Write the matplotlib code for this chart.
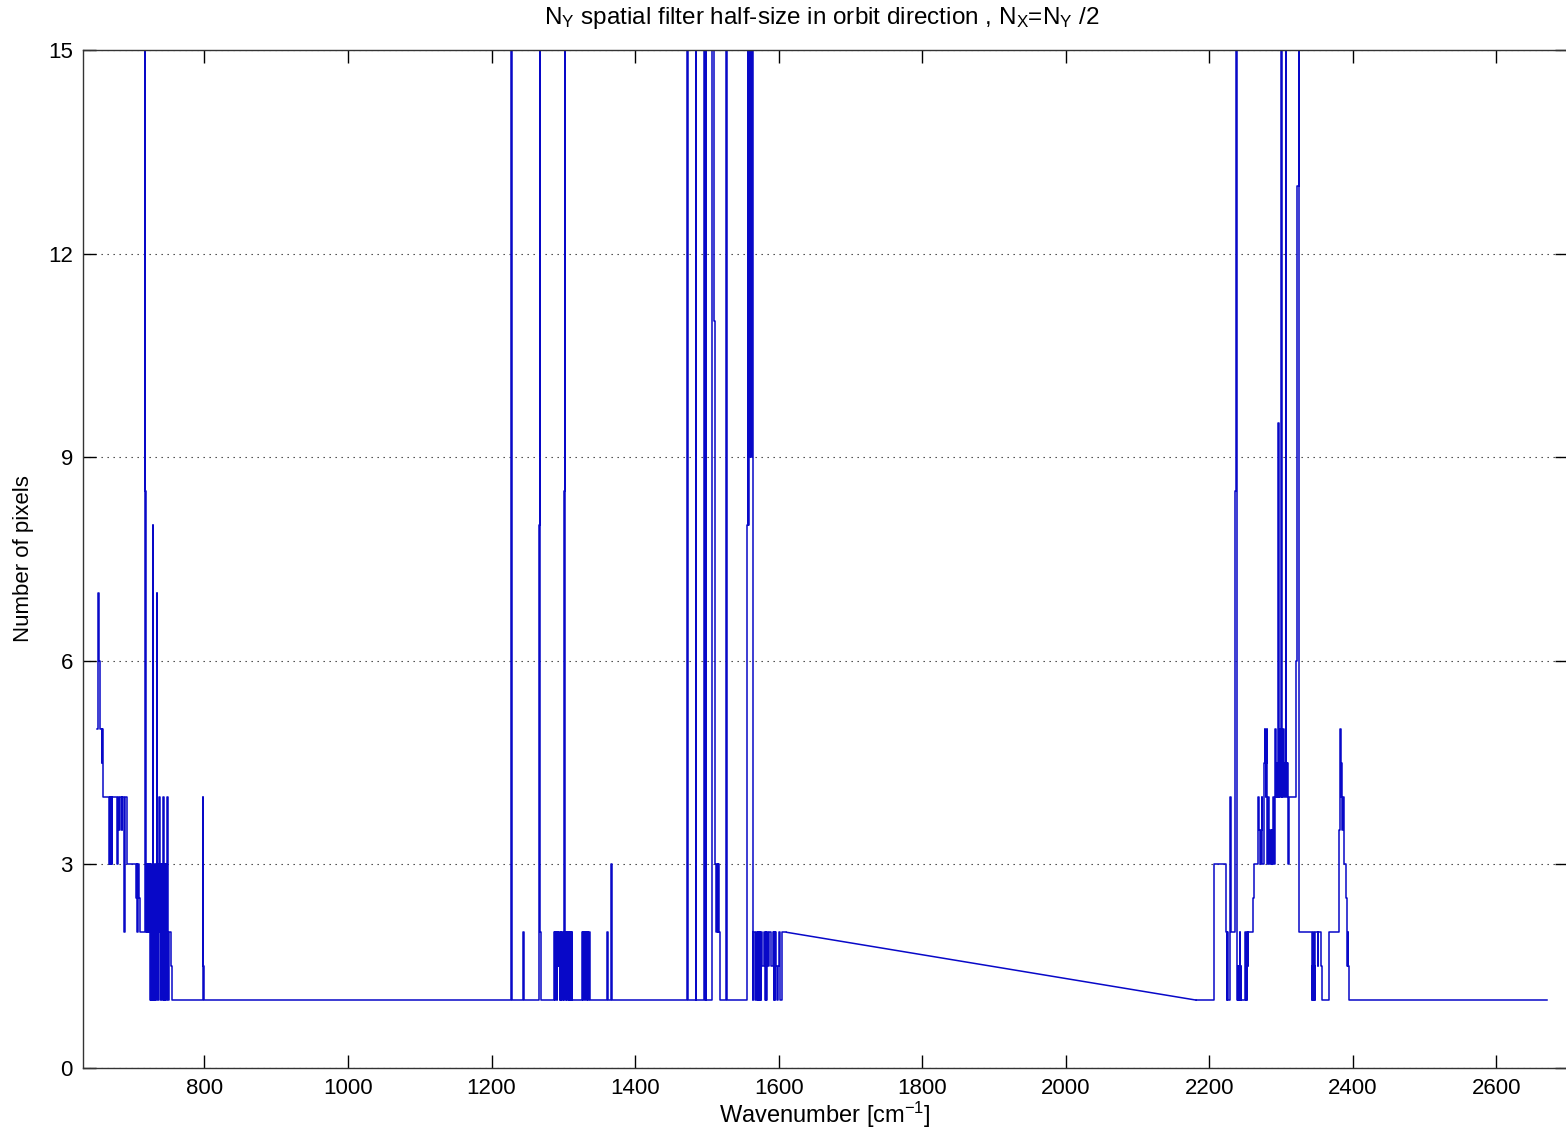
import matplotlib
matplotlib.use('Agg')
import matplotlib.pyplot as plt

plt.rcParams['font.family'] = ['Liberation Sans', 'DejaVu Sans']
plt.rcParams['mathtext.default'] = 'regular'

# ---------------- data (step breakpoints: value holds from x until next x) ----------------
# Band A: 650 - 1611 cm-1
WN1 = [650.5, 651.2, 652.5, 654.5, 657.0, 657.8, 658.5, 659.1, 667.4, 668.2,
       669.0, 669.8, 670.6, 671.4, 677.8, 678.5, 679.2, 681.5, 682.4, 684.7,
       685.5, 688.0, 688.4, 688.9, 692.5, 704.7, 705.5, 706.5, 707.5, 708.5,
       709.5, 717.2, 717.6, 718.2,
       718.6, 719.3, 720.0, 720.7, 721.4, 722.1, 722.8, 723.5, 724.2, 724.9,
       725.6, 726.3, 727.0, 727.6, 728.0, 728.5, 729.2, 729.9, 730.6, 731.3,
       732.0, 732.7, 733.4, 733.9, 734.4, 735.1, 735.8, 736.5, 737.2, 737.7,
       738.4, 739.1, 739.8, 740.5, 741.2, 741.9, 742.6, 743.1, 743.8, 744.5,
       745.2, 745.9, 746.6, 747.3, 748.0, 748.4, 748.9, 749.6, 750.3, 754.0,
       754.5, 797.4, 798.0, 798.6, 799.4,
       1227.0, 1227.4, 1228.0, 1244.0, 1244.6, 1245.2, 1266.0, 1266.8, 1267.3, 1268.0,
       1268.6,
       1287.1, 1287.8, 1289.0, 1289.6, 1290.2, 1291.0, 1291.8, 1292.5, 1293.2, 1294.0,
       1294.8, 1295.6, 1296.4, 1297.2, 1298.0, 1298.8, 1299.6, 1300.4, 1301.0, 1301.6,
       1302.2, 1303.0, 1303.6, 1304.4, 1305.2, 1306.0, 1306.8, 1307.6, 1308.4, 1309.2,
       1310.0, 1311.0, 1312.0, 1312.7,
       1326.7, 1327.4, 1328.0, 1328.7, 1329.4, 1330.1, 1330.8, 1331.5, 1332.2, 1332.9,
       1333.6, 1334.3, 1335.0, 1335.7, 1336.4, 1337.0,
       1361.5, 1362.2, 1362.8, 1366.7, 1367.3,
       1473.0, 1473.5, 1484.6, 1485.1, 1496.4, 1496.9, 1498.3, 1498.7, 1499.2,
       1507.8, 1510.3, 1511.8, 1513.0, 1514.0, 1515.0, 1516.0, 1517.0, 1518.0, 1519.0,
       1526.6, 1527.3, 1528.2,
       1555.9, 1556.8, 1557.8, 1558.6, 1559.6, 1560.5, 1561.5, 1562.5, 1563.9, 1565.0,
       1566.5, 1568.0, 1569.9, 1570.6, 1571.3, 1572.0, 1572.7, 1573.4, 1574.1, 1574.8,
       1575.5, 1577.5, 1579.0, 1581.5, 1582.2, 1582.9, 1583.4, 1585.0, 1587.0, 1590.0,
       1591.5, 1593.2, 1594.0, 1594.8, 1595.6, 1596.4, 1597.5, 1599.0, 1600.5, 1602.4,
       1604.3, 1611.0]
NY1 = [5, 7, 6, 5, 4.5, 5, 4.5, 4, 3, 4,
       3, 4, 3, 4, 3.5, 3, 4, 3.5, 4, 3.5,
       4, 2.5, 2, 4, 3, 2.5, 3, 2, 3, 2.5,
       2, 20, 8.5, 3,
       2, 3, 2, 3, 2, 3, 2, 3, 1, 3,
       1, 2, 1, 3, 8, 2, 1, 3, 1, 2,
       1, 3, 7, 6, 2, 1, 3, 2, 4, 3,
       1, 3, 2, 3, 1, 2, 4, 1, 3, 1,
       2, 3, 1, 2, 3, 4, 2, 1, 2, 1.5,
       1, 4, 2, 1.5, 1,
       8, 20, 1, 2, 1.5, 1, 2, 8, 20, 2,
       1,
       2, 1, 2, 1.5, 2, 1, 2, 1.5, 2, 1.5,
       1, 2, 1, 2, 1.5, 1, 2, 1, 3.5, 8.5,
       20, 2, 1, 2, 1, 2, 1.5, 1, 2, 1,
       2, 1, 2, 1,
       2, 1, 2, 1.5, 2, 1, 2, 1.5, 2, 1,
       1.5, 2, 1, 1.5, 2, 1,
       2, 1.5, 1, 3, 1,
       20, 1, 20, 1, 20, 1, 8, 20, 1,
       20, 11, 3, 2, 3, 2, 3, 2, 1.5, 1,
       8, 20, 1,
       8, 20, 8, 20, 9, 20, 9, 20, 1, 2,
       1, 2, 1, 2, 1, 2, 1, 2, 1.5, 1,
       2, 1.5, 2, 1, 2, 1, 2, 1.5, 2, 1.5,
       2, 1, 2, 1, 2, 1.5, 1, 1.5, 2, 1,
       2, 2]

# Band B: 2182 - 2671 cm-1
WN2 = [2182.0, 2207.2, 2223.4, 2224.4, 2225.0, 2225.8, 2228.5, 2229.5, 2230.4, 2236.5,
       2237.3, 2238.3, 2239.0, 2239.7, 2240.4, 2241.1, 2241.8, 2242.5, 2243.2, 2244.0,
       2244.7, 2250.5, 2251.2, 2251.9, 2252.6, 2253.3, 2254.0, 2254.6, 2261.6, 2262.8,
       2267.8, 2268.6, 2269.4, 2270.2, 2272.6, 2273.3, 2274.0, 2277.0, 2277.6, 2278.2,
       2278.8, 2279.4, 2280.0, 2280.6, 2281.2, 2282.4, 2283.0, 2285.0, 2285.6, 2287.5,
       2288.2, 2289.5, 2290.5, 2291.5, 2292.3, 2293.0, 2294.0, 2295.0, 2296.0, 2296.8,
       2297.5, 2298.3, 2299.0, 2300.0, 2300.5, 2301.2, 2302.0, 2302.8, 2303.5, 2304.2,
       2305.0, 2305.8, 2306.5, 2307.5, 2308.2, 2309.0, 2309.8, 2310.5, 2311.5, 2320.7,
       2323.0, 2324.5, 2325.3,
       2343.0, 2343.7, 2344.4, 2345.1, 2345.8, 2346.5, 2347.2, 2347.9, 2348.6, 2351.0,
       2352.0, 2356.5, 2357.0, 2367.1, 2380.3, 2381.0, 2381.8, 2382.5, 2383.2, 2384.0,
       2384.8, 2385.5, 2386.2, 2387.2, 2391.0, 2391.8, 2392.5, 2393.2, 2394.0, 2395.0,
       2671.0]
NY2 = [1, 3, 2, 1, 2, 1, 2.5, 4, 2, 8.5,
       20, 2, 1, 1.5, 1, 1.5, 1, 2, 1, 1.5,
       1, 2, 1, 1.5, 1, 2, 1.5, 2, 2.5, 3,
       3.5, 4, 3.5, 3, 3.5, 4, 3, 4.5, 5, 4.5,
       4, 4.5, 5, 4, 3, 4, 3, 3.5, 3, 3.5,
       3, 4, 3, 4.5, 5, 4, 4.5, 4, 9.5, 4,
       4.5, 5, 4, 9.5, 20, 4, 4.5, 4, 5, 4.5,
       4, 4.5, 20, 4.5, 4, 4.5, 4.5, 3, 4, 6,
       13, 20, 2,
       1, 1.5, 1, 2, 1, 1.5, 1, 2, 2, 1.5,
       2, 1.5, 1, 2, 3, 3.5, 4, 5, 4, 4.5,
       4, 3.5, 4, 3, 2.5, 2, 1.5, 2, 1.5, 1,
       1]

X_TICKS = [800, 1000, 1200, 1400, 1600, 1800, 2000, 2200, 2400, 2600]
Y_TICKS = [0, 3, 6, 9, 12, 15]
X_RANGE = (630, 2700)
Y_RANGE = (0, 15)

TITLE = 'N$_{Y}$ spatial filter half-size in orbit direction , N$_{X}$=N$_{Y}$ /2'
XLABEL = 'Wavenumber [cm$^{-1}$]'
YLABEL = 'Number of pixels'

assert len(WN1) == len(NY1) and len(WN2) == len(NY2)

# ---------------- figure ----------------
W, H = 1566, 1131
fig = plt.figure(figsize=(W / 100, H / 100), dpi=100)
ax = fig.add_axes([82.5 / W, 1 - 1068 / H, (1568 - 82.5) / W, 1018 / H])

LC = '#0808c8'
LW = 1.1
ax.plot(WN1, NY1, drawstyle='steps-post', color=LC, lw=LW)
ax.plot([WN1[-1], WN2[0]], [NY1[-1], NY2[0]], color=LC, lw=LW)
ax.plot(WN2, NY2, drawstyle='steps-post', color=LC, lw=LW)

ax.set_xlim(*X_RANGE)
ax.set_ylim(*Y_RANGE)
ax.set_xticks(X_TICKS)
ax.set_yticks(Y_TICKS)
ax.tick_params(direction='in', length=9.5, width=1.0, top=True, right=True,
               labelsize=16, pad=7, colors='black')
ax.yaxis.grid(True, linestyle=(0, (1.2, 4.2)), color='#333333', lw=0.8)
for s in ax.spines.values():
    s.set_color('#333333')
    s.set_linewidth(1.0)

fig.text(822 / W, 1 - 18 / H, TITLE, ha='center', va='center', fontsize=17.5)
ax.set_xlabel(XLABEL, fontsize=17, labelpad=1)
ax.set_ylabel(YLABEL, fontsize=16, labelpad=10)

fig.savefig('out.png', dpi=100)
